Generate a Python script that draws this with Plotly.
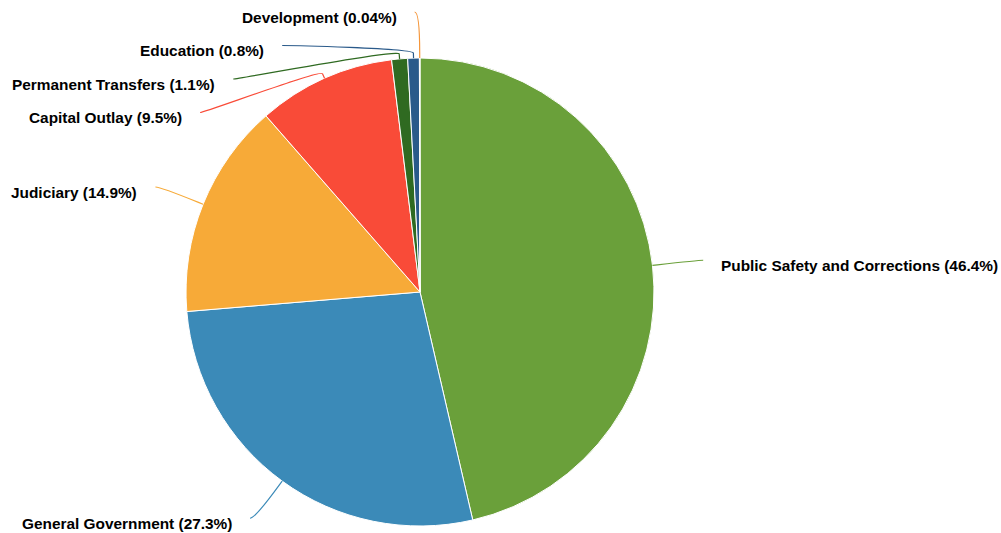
import math
import plotly.graph_objects as go

# Budget shares by category, in clockwise order starting at 12 o'clock
categories = [
    "Public Safety and Corrections",
    "General Government",
    "Judiciary",
    "Capital Outlay",
    "Permanent Transfers",
    "Education",
    "Development",
]
shares = [46.4, 27.3, 14.9, 9.5, 1.1, 0.8, 0.04]
pct_labels = ["46.4%", "27.3%", "14.9%", "9.5%", "1.1%", "0.8%", "0.04%"]
colors = ["#6aa03a", "#3b8ab8", "#f7aa38", "#f94b38", "#2f6a21", "#2a5a8a", "#f5963a"]

# Canvas and pie geometry (pixels)
W, H = 1001, 533
CX, CY, R = 420, 292, 234
LABEL_DIST = 46        # distance of label anchor from the rim
CONN_PAD = 5           # horizontal gap added to label anchor
CONN_OFFSET = 5        # radial length of the connector break
LABEL_GAP = 33.5       # minimum vertical spacing between stacked labels
TEXT_GAP = 17          # gap between connector end and text
FONT = dict(family="Liberation Sans, Arial, sans-serif", size=15.4, color="#000000")


def px(x):
    return x / W


def py(y):
    return 1 - y / H


fig = go.Figure(
    go.Pie(
        labels=categories,
        values=shares,
        sort=False,
        direction="clockwise",
        rotation=0,
        textinfo="none",
        hoverinfo="label+percent",
        marker=dict(colors=colors, line=dict(color="#ffffff", width=1)),
        domain=dict(x=[px(CX - R), px(CX + R)], y=[py(CY + R), py(CY - R)]),
        showlegend=False,
    )
)

# Mid angle of each slice (radians, clockwise from 12 o'clock)
total = sum(shares)
mids = []
acc = 0.0
for v in shares:
    mids.append(2 * math.pi * (acc + v / 2) / total)
    acc += v

RL = R + LABEL_DIST
items = []
for i, a in enumerate(mids):
    left = math.sin(a) < 0
    items.append(dict(i=i, a=a, left=left, y=CY - RL * math.cos(a)))

# Stack labels on each side so they do not overlap
for side in (True, False):
    group = [it for it in items if it["left"] == side]
    group.sort(key=lambda it: it["y"])
    prev = None
    for it in group:
        if prev is not None and it["y"] < prev + LABEL_GAP:
            it["y"] = prev + LABEL_GAP
        prev = it["y"]

shapes = []
annotations = []
for it in items:
    i, a, left = it["i"], it["a"], it["left"]
    sgn = -1 if left else 1
    ly = it["y"]
    s = max(-1.0, min(1.0, (ly - CY) / RL))
    lx = CX + sgn * (math.cos(math.asin(s)) * RL + CONN_PAD)

    tx, ty = CX + R * math.sin(a), CY - R * math.cos(a)
    bx, by = CX + (R + CONN_OFFSET) * math.sin(a), CY - (R + CONN_OFFSET) * math.cos(a)
    c1x, c1y = lx - sgn * 5, ly
    c2x, c2y = 2 * bx - tx, 2 * by - ty
    path = (
        f"M {px(lx)},{py(ly)} C {px(c1x)},{py(c1y)} {px(c2x)},{py(c2y)} {px(bx)},{py(by)} "
        f"L {px(tx)},{py(ty)}"
    )
    shapes.append(
        dict(type="path", xref="paper", yref="paper", path=path,
             line=dict(color=colors[i], width=1.2), layer="above")
    )
    annotations.append(
        dict(
            x=px(lx + sgn * TEXT_GAP),
            y=py(ly + 5),
            xref="paper",
            yref="paper",
            xanchor="right" if left else "left",
            yanchor="middle",
            text=f"<b>{categories[i]} ({pct_labels[i]})</b>",
            showarrow=False,
            font=FONT,
            borderpad=0,
        )
    )

fig.update_layout(
    width=W,
    height=H,
    margin=dict(l=0, r=0, t=0, b=0),
    paper_bgcolor="#ffffff",
    plot_bgcolor="#ffffff",
    shapes=shapes,
    annotations=annotations,
)

fig.write_html("out.html")
